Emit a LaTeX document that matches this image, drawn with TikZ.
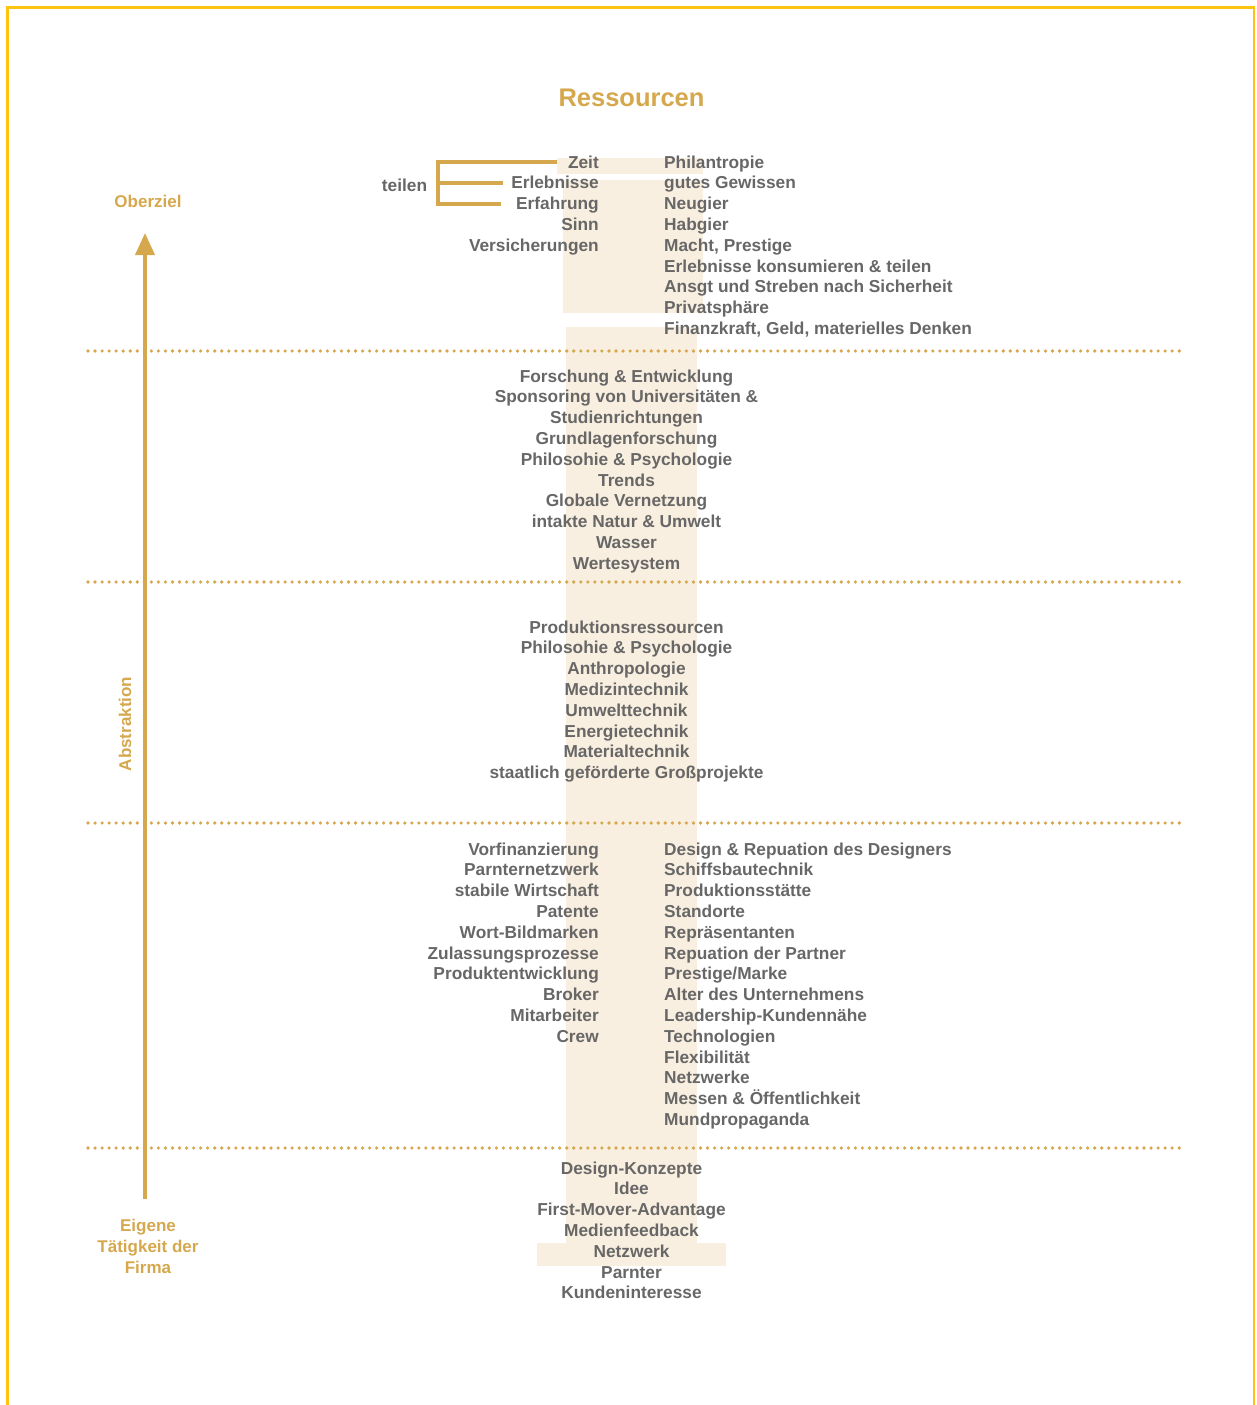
\documentclass[tikz,border=0pt]{standalone}
\usepackage{fontspec}
\setmainfont{Liberation Sans}
\usetikzlibrary{arrows.meta}

\definecolor{gold}{HTML}{D6A84E}
\definecolor{txtgray}{HTML}{676767}
\definecolor{band}{HTML}{F9EFE0}
\definecolor{framecol}{HTML}{FFC20E}

\tikzset{
  lbl/.style={text=txtgray, font=\bfseries\fontsize{17.3}{20.8}\selectfont, inner sep=0pt},
  lefttext/.style={lbl, anchor=base east},
  righttext/.style={lbl, anchor=base west},
  midtext/.style={lbl, anchor=base},
  goldlabel/.style={text=gold, font=\bfseries\fontsize{17}{21}\selectfont, inner sep=0pt, align=center},
  dotline/.style={draw=gold, line width=3.6pt, line cap=round, dash pattern=on 0pt off 7.04pt},
  bracketline/.style={draw=gold, line width=4pt},
  bandfill/.style={fill=band, draw=none},
}

\begin{document}
\begin{tikzpicture}[x=1pt, y=-1pt]
\useasboundingbox (0,0) rectangle (1256,1405);

% outer frame, open at the bottom
\draw[framecol, line width=2.2pt] (7.5,1406) -- (7.5,7.5) -- (1254,7.5) -- (1254,1406);

% light background band behind the central column
\fill[bandfill] (557,158) rectangle (703,174);
\fill[bandfill] (563,180) rectangle (703,313);
\fill[bandfill] (566,327) rectangle (697,1243);
\fill[bandfill] (537,1243) rectangle (726,1266);

% title
\node[text=gold, font=\bfseries\fontsize{25.5}{30}\selectfont, inner sep=0pt, anchor=base] (title) at (631.5,106) {Ressourcen};

% level separators
\draw[dotline] (88,351) -- (1181,351);
\draw[dotline] (88,582) -- (1181,582);
\draw[dotline] (88,823) -- (1181,823);
\draw[dotline] (88,1148) -- (1181,1148);

% abstraction axis
\coordinate (axisfoot) at (145,1199);
\coordinate (axistip) at (145,233);
\draw[gold, line width=4pt, -{Triangle[width=19pt,length=22pt]}] (axisfoot) -- (axistip);
\node[goldlabel, anchor=base] (oberziel) at (148,207) {Oberziel};
\node[goldlabel, rotate=90] (abstraktion) at (125,724) {Abstraktion};
\node[goldlabel, anchor=base] (eigene) at (148,1231) {Eigene};
\node[goldlabel, anchor=base] (taetigkeit) at (148,1252) {Tätigkeit der};
\node[goldlabel, anchor=base] (firma) at (148,1273) {Firma};

% top level: left and right columns
\foreach \t [count=\i] in {Zeit, Erlebnisse, Erfahrung, Sinn, Versicherungen}
  \node[lefttext] (tl\i) at (599, {168+(\i-1)*20.8}) {\t};
\foreach \t [count=\i] in {Philantropie, gutes Gewissen, Neugier, Habgier, {Macht, Prestige},
    Erlebnisse konsumieren \& teilen, Ansgt und Streben nach Sicherheit, Privatsphäre,
    {Finanzkraft, Geld, materielles Denken}}
  \node[righttext] (tr\i) at (664, {168+(\i-1)*20.8}) {\t};

% "teilen" bracket
\node[lbl, anchor=base] (teilen) at (404.5,191) {teilen};
\coordinate (brtop) at (438,162);
\coordinate (brmid) at (438,183);
\coordinate (brbot) at (438,204);
\draw[bracketline] (557,162) -- (brtop) -- (brbot) -- (501,204);
\draw[bracketline] (brmid) -- (503,183);

% second level
\foreach \t [count=\i] in {Forschung \& Entwicklung, Sponsoring von Universitäten \&, Studienrichtungen,
    Grundlagenforschung, Philosohie \& Psychologie, Trends, Globale Vernetzung,
    intakte Natur \& Umwelt, Wasser, Wertesystem}
  \node[midtext] (s\i) at (626.5, {382+(\i-1)*20.8}) {\t};

% third level
\foreach \t [count=\i] in {Produktionsressourcen, Philosohie \& Psychologie, Anthropologie,
    Medizintechnik, Umwelttechnik, Energietechnik, Materialtechnik,
    staatlich geförderte Großprojekte}
  \node[midtext] (m\i) at (626.5, {633+(\i-1)*20.8}) {\t};

% fourth level: left and right columns
\foreach \t [count=\i] in {Vorfinanzierung, Parnternetzwerk, stabile Wirtschaft, Patente,
    Wort-Bildmarken, Zulassungsprozesse, Produktentwicklung, Broker, Mitarbeiter, Crew}
  \node[lefttext] (fl\i) at (599, {855+(\i-1)*20.8}) {\t};
\foreach \t [count=\i] in {Design \& Repuation des Designers, Schiffsbautechnik, Produktionsstätte,
    Standorte, Repräsentanten, Repuation der Partner, Prestige/Marke, Alter des Unternehmens,
    Leadership-Kundennähe, Technologien, Flexibilität, Netzwerke,
    Messen \& Öffentlichkeit, Mundpropaganda}
  \node[righttext] (fr\i) at (664, {855+(\i-1)*20.8}) {\t};

% base level
\foreach \t [count=\i] in {Design-Konzepte, Idee, First-Mover-Advantage, Medienfeedback,
    Netzwerk, Parnter, Kundeninteresse}
  \node[midtext] (b\i) at (631.5, {1174+(\i-1)*20.8}) {\t};

\end{tikzpicture}
\end{document}
